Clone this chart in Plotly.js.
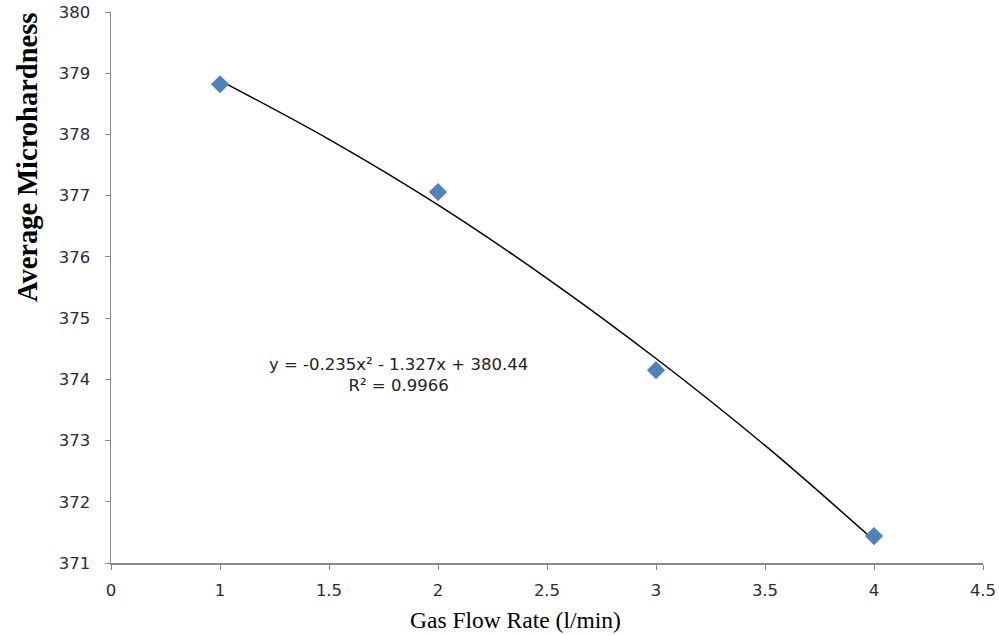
<!DOCTYPE html>
<html>
<head>
<meta charset="utf-8">
<script src="https://cdn.plot.ly/plotly-3.0.1.min.js"></script>
<style>html,body{margin:0;padding:0;background:#fff;}#chart{width:999px;height:635px;}</style>
</head>
<body>
<div id="chart"></div>
<script>
// Measured points
var gasFlow = [1, 2, 3, 4];
var microhardness = [378.82, 377.06, 374.15, 371.44];
// Trendline values
var trendX = [1, 1.5, 2, 2.5, 3, 3.5, 4];
var trendY = [378.88, 377.92, 376.85, 375.65, 374.34, 372.92, 371.37];
// Axis ticks (first tick labelled "0" as in the original)
var xTickVals = [0.5, 1, 1.5, 2, 2.5, 3, 3.5, 4, 4.5];
var xTickText = ["0", "1", "1.5", "2", "2.5", "3", "3.5", "4", "4.5"];
var yTickVals = [371, 372, 373, 374, 375, 376, 377, 378, 379, 380];

var traces = [
  {x: trendX, y: trendY, mode: 'lines', line: {color: '#000', width: 1.5, shape: 'spline'}, hoverinfo: 'skip'},
  {x: gasFlow, y: microhardness, mode: 'markers', marker: {symbol: 'diamond', size: 14, color: '#4F81BD'}}
];

var tickFont = {family: "'DejaVu Sans', Verdana, sans-serif", size: 16.5, color: '#2b2b3b'};
var layout = {
  width: 999, height: 635,
  margin: {l: 111, r: 16, t: 12, b: 72},
  showlegend: false,
  paper_bgcolor: '#fff', plot_bgcolor: '#fff',
  xaxis: {
    range: [0.5, 4.5], tickvals: xTickVals, ticktext: xTickText,
    showgrid: false, zeroline: false, showline: true, linecolor: '#888', linewidth: 1.5,
    ticks: 'outside', ticklen: 5, tickcolor: '#888', tickfont: tickFont, ticklabelstandoff: 7
  },
  yaxis: {
    range: [371, 380], tickvals: yTickVals,
    showgrid: false, zeroline: false, showline: true, linecolor: '#888', linewidth: 1.5,
    ticks: 'outside', ticklen: 5, tickcolor: '#888', tickfont: tickFont, ticklabelstandoff: 11
  },
  annotations: [
    {text: 'Average Microhardness', xref: 'paper', yref: 'paper', x: (27 - 111) / 872, y: (562.7 - 158) / 550.7,
     textangle: -90, showarrow: false, xanchor: 'center', yanchor: 'middle',
     font: {family: "'Liberation Serif', 'Times New Roman', serif", size: 28.5, color: '#000', weight: 'bold'}},
    {text: 'Gas Flow Rate (l/min)', xref: 'paper', yref: 'paper', x: (515 - 111) / 872, y: (562.7 - 620) / 550.7,
     showarrow: false, xanchor: 'center', yanchor: 'middle',
     font: {family: "'Liberation Serif', 'Times New Roman', serif", size: 23.5, color: '#000'}},
    {text: 'y = -0.235x² - 1.327x + 380.44<br>R² = 0.9966', xref: 'paper', yref: 'paper', x: (398 - 111) / 872, y: (562.7 - 375) / 550.7,
     showarrow: false, xanchor: 'center', yanchor: 'middle', align: 'center',
     font: {family: "'DejaVu Sans', sans-serif", size: 16.5, color: '#222'}}
  ]
};
Plotly.newPlot('chart', traces, layout, {staticPlot: true, displayModeBar: false});
</script>
</body>
</html>
